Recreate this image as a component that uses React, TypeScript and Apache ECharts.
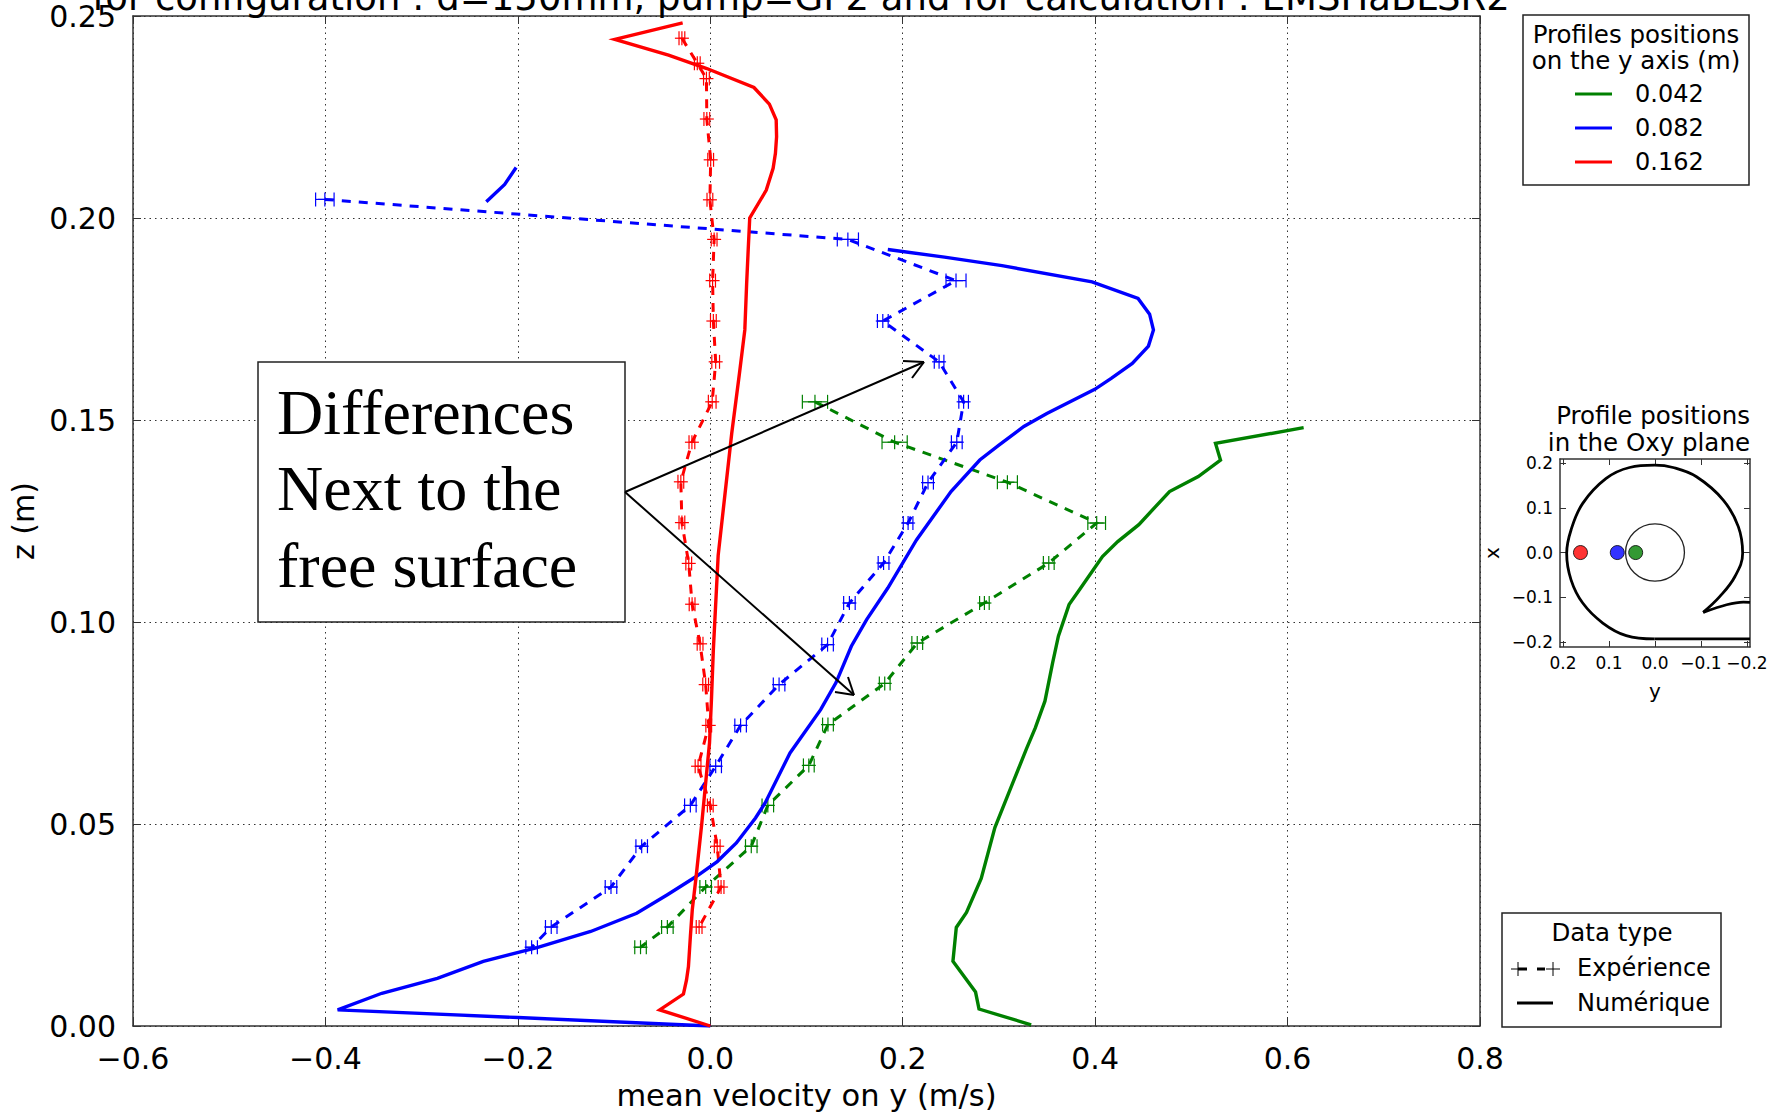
import React, { useEffect, useRef } from "react";
import * as echarts from "echarts";

const FONT = "DejaVu Sans";
const titleText = "for configuration : d=150mm, pump=GP2 and for calculation : EMSHaBLSR2";
const insetTicks = [-0.2, -0.1, 0, 0.1, 0.2];

const greenSolid = [[0.6167,0.1481],[0.5251,0.1442],[0.5303,0.1401],[0.5072,0.136],[0.4773,0.1323],[0.4454,0.1241],[0.4235,0.1199],[0.4076,0.1162],[0.3837,0.108],[0.3729,0.1043],[0.3618,0.0965],[0.3558,0.0899],[0.3478,0.0804],[0.3378,0.0738],[0.3288,0.0687],[0.3146,0.0603],[0.2958,0.0491],[0.2816,0.0365],[0.2663,0.0281],[0.2557,0.0244],[0.2522,0.016],[0.2757,0.0084],[0.2793,0.0042],[0.3335,0.0003]];
const blueSolidTop = [[-0.2328,0.204],[-0.2137,0.2083],[-0.2018,0.2125]];
const blueSolid = [[0.1845,0.1922],[0.2434,0.1903],[0.3032,0.1882],[0.3968,0.1842],[0.4446,0.1801],[0.4566,0.1762],[0.4606,0.1723],[0.4554,0.1683],[0.4386,0.164],[0.4167,0.1603],[0.3996,0.1576],[0.3498,0.1516],[0.3259,0.1484],[0.3,0.1438],[0.2801,0.1401],[0.2502,0.1323],[0.2143,0.1203],[0.1845,0.1084],[0.1625,0.1006],[0.1466,0.094],[0.1307,0.085],[0.1147,0.0783],[0.0829,0.0676],[0.057,0.0552],[0.047,0.0515],[0.0271,0.0453],[0.0072,0.0407],[-0.0147,0.037],[-0.0446,0.0325],[-0.0765,0.0279],[-0.1243,0.0234],[-0.1801,0.0194],[-0.2359,0.016],[-0.2837,0.0118],[-0.3414,0.0081],[-0.3873,0.004],[-0.2,0.0021],[0,0]];
const redSolid = [[-0.0287,0.2483],[-0.0992,0.2442],[-0.0434,0.2403],[-0.0036,0.237],[0.0454,0.2323],[0.0614,0.2282],[0.0685,0.2243],[0.0689,0.2201],[0.0677,0.216],[0.0653,0.2123],[0.0582,0.2069],[0.041,0.2],[0.0394,0.1921],[0.0378,0.1838],[0.0359,0.1723],[0.0303,0.1615],[0.0223,0.1467],[0.0082,0.1165],[0.0032,0.0932],[0.0012,0.0808],[-0.0008,0.0701],[-0.0048,0.0602],[-0.0088,0.0502],[-0.0147,0.037],[-0.0187,0.0288],[-0.0207,0.0221],[-0.0227,0.0147],[-0.0247,0.0114],[-0.0279,0.0079],[-0.0526,0.004],[0,0]];

// [velocity, z, half error]
const greenExp = [[0.1088,0.1545,0.0131],[0.1916,0.1445,0.0131],[0.3088,0.1346,0.0104],[0.4016,0.1245,0.0092],[0.3518,0.1146,0.0056],[0.2849,0.1047,0.005],[0.2151,0.0948,0.0056],[0.1813,0.0848,0.0056],[0.1223,0.0746,0.0056],[0.1024,0.0645,0.0056],[0.0598,0.0546,0.006],[0.0426,0.0445,0.006],[-0.0048,0.0344,0.006],[-0.0446,0.0245,0.006],[-0.0725,0.0195,0.006]];
const blueExp = [[-0.4006,0.2046,0.0096],[0.143,0.1947,0.011],[0.2554,0.1845,0.0104],[0.1793,0.1745,0.0056],[0.2378,0.1644,0.005],[0.2633,0.1545,0.005],[0.2562,0.1445,0.0056],[0.2263,0.1345,0.0056],[0.2056,0.1245,0.005],[0.1801,0.1146,0.0056],[0.1446,0.1047,0.006],[0.1219,0.0944,0.006],[0.0715,0.0845,0.006],[0.0315,0.0744,0.006],[0.0056,0.0643,0.006],[-0.0207,0.0546,0.006],[-0.0713,0.0445,0.006],[-0.1032,0.0344,0.006],[-0.1653,0.0245,0.006],[-0.1857,0.0195,0.006]];
const redExp = [[-0.0295,0.2445,0.003],[-0.0135,0.2383,0.003],[-0.004,0.2345,0.003],[-0.0036,0.2245,0.003],[0.0004,0.2144,0.003],[-0.0004,0.2045,0.003],[0.004,0.1947,0.003],[0.0024,0.1845,0.003],[0.0032,0.1745,0.003],[0.0056,0.1644,0.004],[0.002,0.1545,0.004],[-0.0191,0.1445,0.003],[-0.0306,0.1347,0.003],[-0.0295,0.1246,0.003],[-0.0224,0.1145,0.003],[-0.0189,0.1044,0.003],[-0.0106,0.0946,0.003],[-0.0048,0.0845,0.003],[-0.0016,0.0744,0.003],[-0.0127,0.0643,0.003],[0,0.0546,0.003],[0.0072,0.0445,0.003],[0.0112,0.0344,0.003],[-0.0116,0.0245,0.003]];

const voluteMain = [[-0.1047,-0.1336],[-0.1411,-0.098],[-0.1738,-0.0535],[-0.1905,-0.0015],[-0.1811,0.0579],[-0.1484,0.1173],[-0.0902,0.1693],[-0.0393,0.19],[0.0007,0.1952],[0.0553,0.19],[0.1062,0.1656],[0.1571,0.1099],[0.1825,0.0505],[0.192,-0.0015],[0.1825,-0.0609],[0.1571,-0.1128],[0.1135,-0.1574],[0.0625,-0.1856],[0.0007,-0.193]];
const voluteOutlet = [[0.0007,-0.193],[-0.2065,-0.193]];
const voluteTongue = [[-0.1047,-0.1336],[-0.1556,-0.1166],[-0.192,-0.1106],[-0.2065,-0.1114]];
const innerCircle = [[0, 0, 0.064]];
const profilePositions = [[0.162, 0, "#ff0000"], [0.082, 0, "#0000ff"], [0.042, 0, "#008000"]];
const legendProfiles = [["0.042", "#008000"], ["0.082", "#0000ff"], ["0.162", "#ff0000"]];

const minus = (s: string) => s.replace("-", "\u2212");

function errRender(color: string) {
  return (_: any, api: any) => {
    const x = api.value(0), y = api.value(1), e = api.value(2);
    const c = api.coord([x, y]);
    const l = api.coord([x - e, y]);
    const r = api.coord([x + e, y]);
    const style = { stroke: color, lineWidth: 1.2, fill: "none" };
    const seg = (x1: number, y1: number, x2: number, y2: number) => ({ type: "line", shape: { x1, y1, x2, y2 }, style });
    return {
      type: "group",
      children: [
        seg(l[0], c[1], r[0], c[1]),
        seg(l[0], c[1] - 7, l[0], c[1] + 7),
        seg(r[0], c[1] - 7, r[0], c[1] + 7),
        seg(c[0] - 7, c[1], c[0] + 7, c[1]),
        seg(c[0], c[1] - 7, c[0], c[1] + 7),
      ],
    };
  };
}

function lineSeries(data: number[][], color: string, dashed = false) {
  return {
    type: "line", data, xAxisIndex: 0, yAxisIndex: 0, showSymbol: false, symbol: "none",
    smooth: false, silent: true, z: dashed ? 3 : 4,
    lineStyle: { color, width: dashed ? 3 : 3.4, type: dashed ? [9, 8] : "solid", cap: "butt", join: "miter" },
  };
}
function errSeries(data: number[][], color: string) {
  return { type: "custom", data, xAxisIndex: 0, yAxisIndex: 0, renderItem: errRender(color), encode: { x: 0, y: 1 }, silent: true, z: 3 };
}
function insetLine(data: number[][], smooth: number | boolean = false) {
  return {
    type: "line", data, xAxisIndex: 2, yAxisIndex: 2, showSymbol: false, symbol: "none", silent: true, smooth,
    lineStyle: { color: "#000", width: 2.8 }, z: 3,
  };
}

const T = (text: string, x: number, baseline: number, fontSize: number, align = "left", extra: any = {}) => ({
  type: "text", x, y: baseline - fontSize * 0.36, z: 100,
  style: { text, fontSize, fontFamily: FONT, fill: "#000", align, verticalAlign: "middle", ...extra },
});
const L = (x1: number, y1: number, x2: number, y2: number, color = "#000", lineWidth = 2, lineDash?: number[]) => ({
  type: "line", z: 100, shape: { x1, y1, x2, y2 }, style: { stroke: color, lineWidth, lineDash },
});
const box = (x: number, y: number, width: number, height: number, lineWidth = 1.5) => ({
  type: "rect", z: 99, shape: { x, y, width, height }, style: { fill: "#fff", stroke: "#222", lineWidth },
});

export default function App() {
  const ref = useRef<HTMLDivElement>(null);
  useEffect(() => {
    const chart = echarts.init(ref.current!, undefined, { renderer: "svg" });
    const axisLine = { show: true, onZero: false, lineStyle: { color: "#333", width: 1.5 } };
    const tickStyle = { color: "#333", width: 1 };
    chart.setOption({
      animation: false,
      backgroundColor: "#fff",
      title: {
        text: titleText, left: 796, top: -26, textAlign: "center",
        textStyle: { fontFamily: FONT, fontWeight: "normal", fontSize: 37, color: "#000" },
      },
      grid: [
        { left: 133, top: 16, width: 1347, height: 1010, containLabel: false, outerBoundsMode: "none" },
        { left: 1560, top: 459, width: 190, height: 188, containLabel: false, outerBoundsMode: "none" },
      ],
      xAxis: [
        {
          type: "value", gridIndex: 0, position: "bottom", min: -0.6, max: 0.8, interval: 0.2,
          name: "mean velocity on y (m/s)", nameLocation: "middle", nameGap: 54,
          nameTextStyle: { fontFamily: FONT, fontSize: 30.5, color: "#000" },
          axisLine, axisTick: { show: true, inside: true, length: 8, lineStyle: tickStyle },
          axisLabel: { fontFamily: FONT, fontSize: 30, color: "#000", margin: 17, formatter: (v: number) => minus(v.toFixed(1)) },
          splitLine: { show: true, lineStyle: { color: "#333", width: 1, type: [1.5, 4] } },
        },
        {
          type: "value", gridIndex: 0, position: "top", min: -0.6, max: 0.8, interval: 0.2,
          axisLine, axisTick: { show: true, inside: true, length: 8, lineStyle: tickStyle }, axisLabel: { show: false }, splitLine: { show: false },
        },
        {
          type: "value", gridIndex: 1, position: "bottom", inverse: true, min: -0.2065, max: 0.2065,
          name: "y", nameLocation: "middle", nameGap: 34, nameTextStyle: { fontFamily: FONT, fontSize: 20, color: "#000" },
          axisLine, axisTick: { show: true, inside: true, length: 6, lineStyle: tickStyle, customValues: insetTicks },
          axisLabel: { fontFamily: FONT, fontSize: 17, color: "#000", margin: 7, customValues: insetTicks, formatter: (v: number) => minus(v.toFixed(1)) },
          splitLine: { show: false },
        },
        {
          type: "value", gridIndex: 1, position: "top", inverse: true, min: -0.2065, max: 0.2065,
          axisLine, axisTick: { show: true, inside: true, length: 6, lineStyle: tickStyle, customValues: insetTicks }, axisLabel: { show: false }, splitLine: { show: false },
        },
      ],
      yAxis: [
        {
          type: "value", gridIndex: 0, position: "left", min: 0, max: 0.25, interval: 0.05,
          name: "z (m)", nameLocation: "middle", nameGap: 94, nameRotate: 90,
          nameTextStyle: { fontFamily: FONT, fontSize: 30, color: "#000" },
          axisLine, axisTick: { show: true, inside: true, length: 8, lineStyle: tickStyle },
          axisLabel: { fontFamily: FONT, fontSize: 30, color: "#000", margin: 17, formatter: (v: number) => v.toFixed(2) },
          splitLine: { show: true, lineStyle: { color: "#333", width: 1, type: [1.5, 4] } },
        },
        {
          type: "value", gridIndex: 0, position: "right", min: 0, max: 0.25, interval: 0.05,
          axisLine, axisTick: { show: true, inside: true, length: 8, lineStyle: tickStyle }, axisLabel: { show: false }, splitLine: { show: false },
        },
        {
          type: "value", gridIndex: 1, position: "left", min: -0.211, max: 0.209,
          name: "x", nameLocation: "middle", nameGap: 58, nameRotate: 90, nameTextStyle: { fontFamily: FONT, fontSize: 20, color: "#000" },
          axisLine, axisTick: { show: true, inside: true, length: 6, lineStyle: tickStyle, customValues: insetTicks },
          axisLabel: { fontFamily: FONT, fontSize: 17, color: "#000", margin: 7, customValues: insetTicks, formatter: (v: number) => minus(v.toFixed(1)) },
          splitLine: { show: false },
        },
        {
          type: "value", gridIndex: 1, position: "right", min: -0.211, max: 0.209,
          axisLine, axisTick: { show: true, inside: true, length: 6, lineStyle: tickStyle, customValues: insetTicks }, axisLabel: { show: false }, splitLine: { show: false },
        },
      ],
      series: [
        lineSeries(greenExp.map((d) => [d[0], d[1]]), "#008000", true),
        errSeries(greenExp, "#008000"),
        lineSeries(blueExp.map((d) => [d[0], d[1]]), "#0000ff", true),
        errSeries(blueExp, "#0000ff"),
        lineSeries(redExp.map((d) => [d[0], d[1]]), "#ff0000", true),
        errSeries(redExp, "#ff0000"),
        lineSeries(greenSolid, "#008000"),
        lineSeries(blueSolidTop, "#0000ff"),
        lineSeries(blueSolid, "#0000ff"),
        lineSeries(redSolid, "#ff0000"),
        insetLine(voluteMain, 0.4),
        insetLine(voluteOutlet),
        insetLine(voluteTongue, 0.3),
        {
          type: "custom", data: innerCircle, xAxisIndex: 2, yAxisIndex: 2, silent: true, z: 3, encode: { x: 0, y: 1 },
          renderItem: (_: any, api: any) => {
            const c = api.coord([api.value(0), api.value(1)]);
            const s = api.size([api.value(2), api.value(2)]);
            return { type: "ellipse", shape: { cx: c[0], cy: c[1], rx: s[0], ry: s[1] }, style: { fill: "none", stroke: "#222", lineWidth: 1.3 } };
          },
        },
        {
          type: "scatter", xAxisIndex: 2, yAxisIndex: 2, symbol: "circle", symbolSize: 14, silent: true, z: 5,
          data: profilePositions.map((p) => ({ value: [p[0], p[1]], itemStyle: { color: p[2], borderColor: "#000", borderWidth: 1 } })),
        },
      ],
      graphic: {
        elements: [
          box(258, 362, 367, 260),
          ...["Differences", "Next to the", "free surface"].map((s, i) =>
            T(s, 277, [436, 512, 589][i], 64, "left", { fontFamily: "Liberation Serif" })),
          L(625, 492, 924, 362), L(903, 361, 924, 362), L(912, 378, 924, 362),
          L(625, 492, 854, 695), L(835, 692, 854, 695), L(848, 677, 854, 695),
          box(1523, 15, 226, 170),
          T("Profiles positions", 1636, 43, 24.5, "center"),
          T("on the y axis (m)", 1636, 69, 24.5, "center"),
          ...legendProfiles.flatMap((p, i) => {
            const y = [94, 128, 162][i];
            return [L(1575, y, 1612, y, p[1], 3), T(p[0], 1635, y + 9, 24)];
          }),
          T("Profile positions", 1750, 424, 24.5, "right"),
          T("in the Oxy plane", 1750, 451, 24.5, "right"),
          box(1502, 913, 219, 114),
          T("Data type", 1612, 941, 24.5, "center"),
          L(1518, 969, 1527, 969, "#000", 3), L(1537, 969, 1545, 969, "#000", 3),
          L(1511, 969, 1525, 969, "#000", 1), L(1518, 962, 1518, 976, "#000", 1),
          L(1546, 969, 1560, 969, "#000", 1), L(1553, 962, 1553, 976, "#000", 1),
          T("Expérience", 1577, 977, 24),
          L(1517, 1003, 1553, 1003, "#000", 3),
          T("Numérique", 1577, 1012, 24),
        ],
      },
    });
    return () => chart.dispose();
  }, []);
  return <div ref={ref} style={{ position: "fixed", left: 0, top: 0, width: 1778, height: 1114, background: "#fff" }} />;
}
